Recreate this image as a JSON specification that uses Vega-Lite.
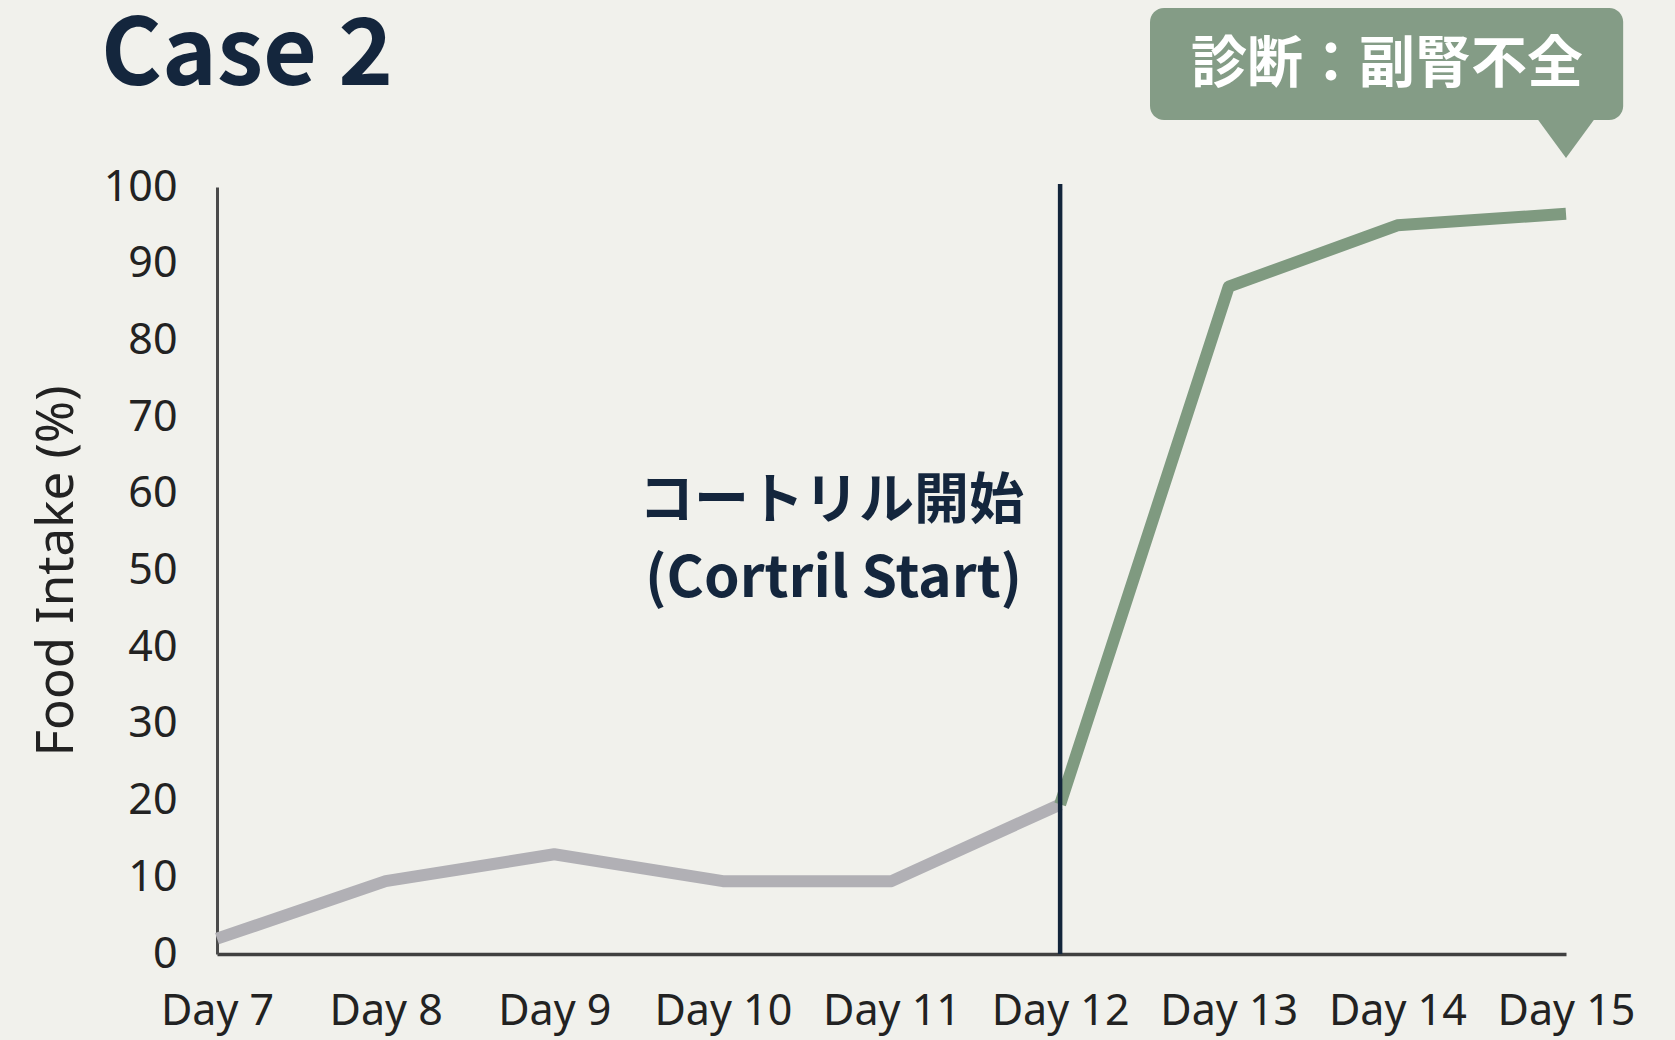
{
  "$schema": "https://vega.github.io/schema/vega-lite/v6.json",
  "width": 1349,
  "height": 767,
  "autosize": {"type": "none"},
  "padding": {"left": 217, "top": 187, "right": 109, "bottom": 86},
  "background": "#f1f1ec",
  "config": {"view": {"stroke": null}, "font": "Noto Sans"},
  "layer": [
    {
      "data": {"values": [
        {"day": 7, "intake": 2, "phase": "before"},
        {"day": 8, "intake": 9.5, "phase": "before"},
        {"day": 9, "intake": 13, "phase": "before"},
        {"day": 10, "intake": 9.5, "phase": "before"},
        {"day": 11, "intake": 9.5, "phase": "before"},
        {"day": 12, "intake": 19.5, "phase": "before"},
        {"day": 12, "intake": 19.5, "phase": "after"},
        {"day": 13, "intake": 87, "phase": "after"},
        {"day": 14, "intake": 95, "phase": "after"},
        {"day": 15, "intake": 96.5, "phase": "after"}
      ]},
      "mark": {"type": "line", "strokeWidth": 12, "strokeJoin": "round"},
      "encoding": {
        "x": {
          "field": "day", "type": "quantitative",
          "scale": {"domain": [7, 15], "nice": false, "zero": false},
          "axis": {
            "values": [7, 8, 9, 10, 11, 12, 13, 14, 15],
            "labelExpr": "'Day ' + datum.value",
            "title": null, "grid": false, "ticks": false, "tickSize": 0,
            "labelFont": "Noto Sans", "labelFontSize": 43, "labelColor": "#222222",
            "labelPadding": 36, "labelFlush": false, "labelOverlap": false,
            "domainColor": "#404040", "domainWidth": 3.5
          }
        },
        "y": {
          "field": "intake", "type": "quantitative",
          "scale": {"domain": [0, 100], "nice": false},
          "axis": {
            "values": [0, 10, 20, 30, 40, 50, 60, 70, 80, 90, 100],
            "title": "Food Intake (%)", "titleFont": "Noto Sans", "titleFontSize": 51,
            "titleFontWeight": "normal", "titleColor": "#222222", "titlePadding": 20,
            "grid": false, "ticks": false, "tickSize": 0,
            "labelFont": "Noto Sans", "labelFontSize": 43, "labelColor": "#222222",
            "labelPadding": 40, "labelFlush": false, "labelOverlap": false,
            "domainColor": "#4a4a4a", "domainWidth": 3
          }
        },
        "color": {
          "field": "phase", "type": "nominal",
          "scale": {"domain": ["before", "after"], "range": ["#b1b0b5", "#7f9a80"]},
          "legend": null
        }
      }
    },
    {
      "data": {"values": [{"event": "Cortril start"}]},
      "mark": {"type": "rule", "color": "#13253b", "strokeWidth": 4.5},
      "encoding": {"x": {"datum": 12}, "y": {"datum": 100.4}, "y2": {"datum": 0}}
    },
    {
      "data": {"values": [{"label": "Case 2"}]},
      "mark": {"type": "text", "font": "Noto Sans CJK JP", "fontWeight": "bold", "fontSize": 93, "color": "#14263d", "align": "left", "baseline": "alphabetic"},
      "encoding": {"x": {"datum": 6.312}, "y": {"datum": 113.3}, "text": {"field": "label"}}
    },
    {
      "data": {"values": [{"label": "callout"}]},
      "mark": {"type": "rect", "color": "#849c86", "cornerRadius": 14},
      "encoding": {"x": {"datum": 12.533}, "x2": {"datum": 15.339}, "y": {"datum": 123.34}, "y2": {"datum": 108.74}}
    },
    {
      "data": {"values": [{"label": "pointer"}]},
      "mark": {"type": "point", "filled": true, "color": "#849c86", "opacity": 1, "strokeWidth": 0, "shape": "M -1 -0.683 L 1 -0.683 L 0 0.683 Z", "size": 3600},
      "encoding": {"x": {"datum": 15}, "y": {"datum": 106.45}}
    },
    {
      "data": {"values": [{"label": "診断：副腎不全"}]},
      "mark": {"type": "text", "font": "Noto Sans CJK JP", "fontWeight": "bold", "fontSize": 56, "color": "#ffffff", "align": "center", "baseline": "middle"},
      "encoding": {"x": {"datum": 13.939}, "y": {"datum": 115.9}, "text": {"field": "label"}}
    },
    {
      "data": {"values": [{"label": "コートリル開始"}]},
      "mark": {"type": "text", "font": "Noto Sans CJK JP", "fontWeight": "bold", "fontSize": 55, "color": "#14263d", "align": "right", "baseline": "middle"},
      "encoding": {"x": {"datum": 11.786}, "y": {"datum": 59.0}, "text": {"field": "label"}}
    },
    {
      "data": {"values": [{"label": "(Cortril Start)"}]},
      "mark": {"type": "text", "font": "Noto Sans CJK JP", "fontWeight": "bold", "fontSize": 57, "color": "#14263d", "align": "right", "baseline": "middle"},
      "encoding": {"x": {"datum": 11.775}, "y": {"datum": 48.8}, "text": {"field": "label"}}
    }
  ]
}
